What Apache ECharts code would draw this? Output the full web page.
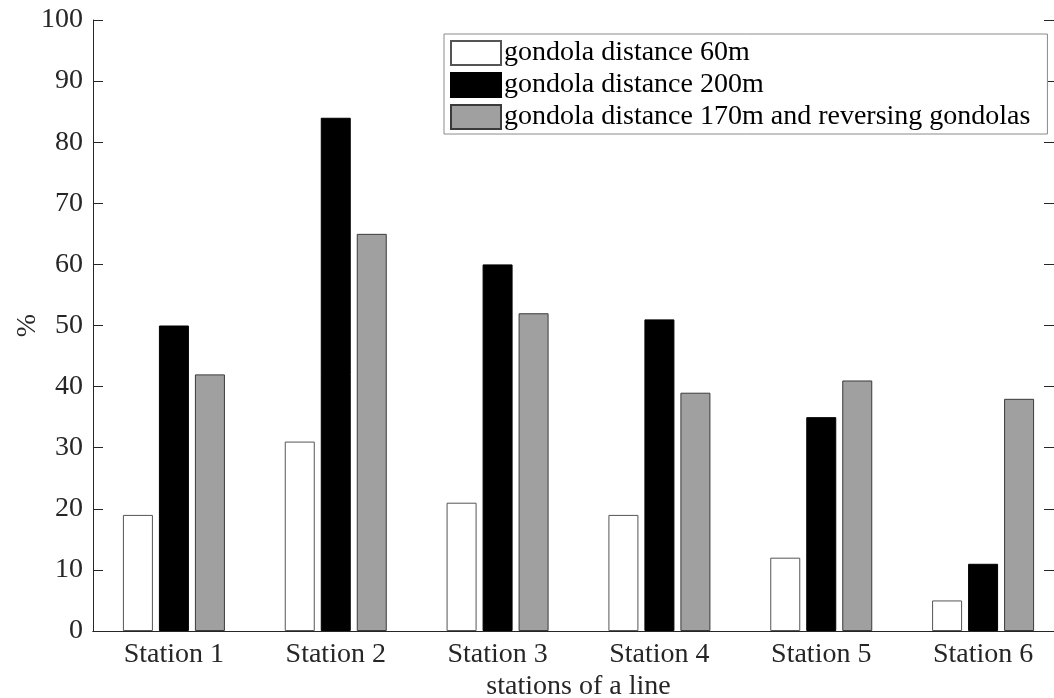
<!DOCTYPE html>
<html>
<head>
<meta charset="utf-8">
<script src="https://cdn.jsdelivr.net/npm/echarts@6/dist/echarts.min.js"></script>
<style>html,body{margin:0;padding:0;background:#fff}#c{width:1054px;height:698px}</style>
</head>
<body>
<div id="c"></div>
<script>
var categories = ['Station 1','Station 2','Station 3','Station 4','Station 5','Station 6'];
var seriesNames = ['gondola distance 60m','gondola distance 200m','gondola distance 170m and reversing gondolas'];
var dist60 = [19, 31, 21, 19, 12, 5];
var dist200 = [50, 84, 60, 51, 35, 11];
var dist170rev = [42, 65, 52, 39, 41, 38];
var yTicks = [0,10,20,30,40,50,60,70,80,90,100];

var FONT = '"Liberation Serif", "DejaVu Serif", serif';
var FS = 28;
var AX = '#262626';
var chart = echarts.init(document.getElementById('c'), null, {renderer:'canvas'});
function bar(name, data, fill, border){
  return {name:name, type:'bar', data:data, barWidth:30, barGap:'20%', xAxisIndex:0, yAxisIndex:0,
    itemStyle:{color:fill, borderColor:border, borderWidth:1}, emphasis:{disabled:true}, animation:false};
}
chart.setOption({
  animation:false,
  textStyle:{fontFamily:FONT},
  grid:{left:93, right:-10, top:20, bottom:67, containLabel:false, outerBoundsMode:'none'},
  legend:{
    left:444, top:34, orient:'vertical', itemWidth:50, itemHeight:24, itemGap:4,
    padding:[5,17,3,6], borderColor:'#8a8a8a', borderWidth:1, backgroundColor:'#fff',
    textStyle:{fontFamily:FONT, fontSize:FS, color:'#000', padding:[0,0,0,-2]},
    icon:'rect', selectedMode:false,
    data:seriesNames
  },
  xAxis:[{
    type:'category', data:categories, position:'bottom',
    axisLine:{lineStyle:{color:AX, width:1}},
    axisTick:{inside:true, length:10, alignWithLabel:true, lineStyle:{color:AX}},
    axisLabel:{fontFamily:FONT, fontSize:FS, color:AX, margin:10},
    name:'stations of a line', nameLocation:'middle', nameGap:42, nameMoveOverlap:false,
    nameTextStyle:{fontFamily:FONT, fontSize:FS, color:AX}
  },{
    type:'category', data:categories, position:'top',
    axisLine:{lineStyle:{color:AX, width:1}},
    axisTick:{inside:true, length:10, alignWithLabel:true, lineStyle:{color:AX}},
    axisLabel:{show:false}
  }],
  yAxis:[{
    type:'value', min:0, max:100, interval:10, position:'left',
    axisLine:{show:true, lineStyle:{color:AX, width:1}},
    axisTick:{show:true, inside:true, length:10, lineStyle:{color:AX}},
    splitLine:{show:false},
    axisLabel:{fontFamily:FONT, fontSize:FS, color:AX, margin:10,
      formatter:function(v){return yTicks.indexOf(v)>=0 ? String(v) : '';}},
    name:'%', nameLocation:'middle', nameGap:51, nameRotate:90, nameMoveOverlap:false,
    nameTextStyle:{fontFamily:FONT, fontSize:FS, color:AX}
  },{
    type:'value', min:0, max:100, interval:10, position:'right', offset:-10,
    axisLine:{show:true, lineStyle:{color:AX, width:1}},
    axisTick:{show:true, inside:true, length:10, lineStyle:{color:AX}},
    splitLine:{show:false}, axisLabel:{show:false}
  }],
  series:[
    bar(seriesNames[0], dist60, '#ffffff', '#555555'),
    bar(seriesNames[1], dist200, '#000000', '#000000'),
    bar(seriesNames[2], dist170rev, '#a0a0a0', '#3a3a3a')
  ]
});
</script>
</body>
</html>
